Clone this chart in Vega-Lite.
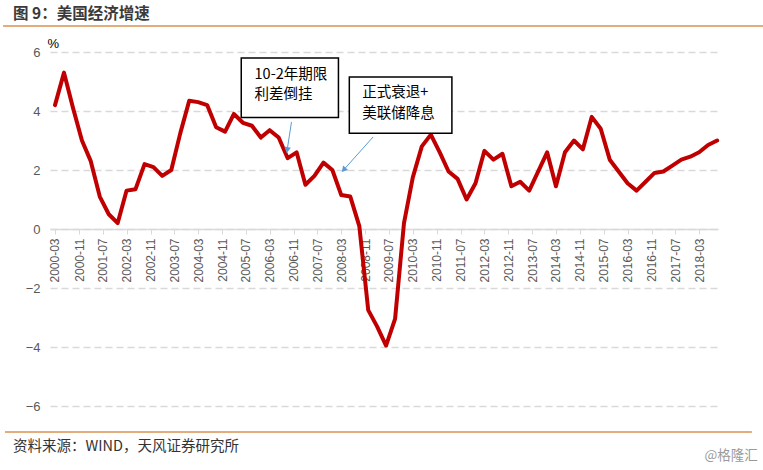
{
  "$schema": "https://vega.github.io/schema/vega-lite/v6.json",
  "width": 668,
  "height": 354,
  "autosize": {"type": "none"},
  "padding": {"left": 50, "top": 52, "right": 45, "bottom": 64},
  "background": "white",
  "config": {"view": {"stroke": null}, "font": "Noto Sans CJK SC", "axis": {"labelOverlap": false, "labelFlush": false, "labelBound": false}},
  "title": {"text": "图 9：美国经济增速", "anchor": "start", "frame": "group", "fontSize": 15.5, "fontWeight": "bold", "color": "#3a3a3a", "font": "Noto Sans CJK SC", "offset": 3, "dx": -37},
  "datasets": {
    "gdp": [
      {"date": "2000-03-01", "v": 4.2}, {"date": "2000-06-01", "v": 5.3}, {"date": "2000-09-01", "v": 4.1}, {"date": "2000-12-01", "v": 3.0},
      {"date": "2001-03-01", "v": 2.3}, {"date": "2001-06-01", "v": 1.1}, {"date": "2001-09-01", "v": 0.5}, {"date": "2001-12-01", "v": 0.2},
      {"date": "2002-03-01", "v": 1.3}, {"date": "2002-06-01", "v": 1.35}, {"date": "2002-09-01", "v": 2.2}, {"date": "2002-12-01", "v": 2.1},
      {"date": "2003-03-01", "v": 1.8}, {"date": "2003-06-01", "v": 2.0}, {"date": "2003-09-01", "v": 3.25}, {"date": "2003-12-01", "v": 4.35},
      {"date": "2004-03-01", "v": 4.3}, {"date": "2004-06-01", "v": 4.2}, {"date": "2004-09-01", "v": 3.45}, {"date": "2004-12-01", "v": 3.3},
      {"date": "2005-03-01", "v": 3.9}, {"date": "2005-06-01", "v": 3.6}, {"date": "2005-09-01", "v": 3.5}, {"date": "2005-12-01", "v": 3.1},
      {"date": "2006-03-01", "v": 3.35}, {"date": "2006-06-01", "v": 3.1}, {"date": "2006-09-01", "v": 2.4}, {"date": "2006-12-01", "v": 2.6},
      {"date": "2007-03-01", "v": 1.5}, {"date": "2007-06-01", "v": 1.8}, {"date": "2007-09-01", "v": 2.25}, {"date": "2007-12-01", "v": 2.0},
      {"date": "2008-03-01", "v": 1.15}, {"date": "2008-06-01", "v": 1.1}, {"date": "2008-09-01", "v": 0.1}, {"date": "2008-12-01", "v": -2.75},
      {"date": "2009-03-01", "v": -3.3}, {"date": "2009-06-01", "v": -3.95}, {"date": "2009-09-01", "v": -3.05}, {"date": "2009-12-01", "v": 0.2},
      {"date": "2010-03-01", "v": 1.75}, {"date": "2010-06-01", "v": 2.8}, {"date": "2010-09-01", "v": 3.2}, {"date": "2010-12-01", "v": 2.6},
      {"date": "2011-03-01", "v": 1.95}, {"date": "2011-06-01", "v": 1.7}, {"date": "2011-09-01", "v": 1.0}, {"date": "2011-12-01", "v": 1.55},
      {"date": "2012-03-01", "v": 2.65}, {"date": "2012-06-01", "v": 2.35}, {"date": "2012-09-01", "v": 2.55}, {"date": "2012-12-01", "v": 1.45},
      {"date": "2013-03-01", "v": 1.6}, {"date": "2013-06-01", "v": 1.3}, {"date": "2013-09-01", "v": 1.95}, {"date": "2013-12-01", "v": 2.6},
      {"date": "2014-03-01", "v": 1.45}, {"date": "2014-06-01", "v": 2.6}, {"date": "2014-09-01", "v": 3.0}, {"date": "2014-12-01", "v": 2.7},
      {"date": "2015-03-01", "v": 3.8}, {"date": "2015-06-01", "v": 3.4}, {"date": "2015-09-01", "v": 2.35}, {"date": "2015-12-01", "v": 1.95},
      {"date": "2016-03-01", "v": 1.55}, {"date": "2016-06-01", "v": 1.3}, {"date": "2016-09-01", "v": 1.6}, {"date": "2016-12-01", "v": 1.9},
      {"date": "2017-03-01", "v": 1.95}, {"date": "2017-06-01", "v": 2.15}, {"date": "2017-09-01", "v": 2.35}, {"date": "2017-12-01", "v": 2.45},
      {"date": "2018-03-01", "v": 2.6}, {"date": "2018-06-01", "v": 2.85}, {"date": "2018-09-01", "v": 3.0}
    ],
    "one": [{}]
  },
  "layer": [
    {
      "data": {"name": "gdp"},
      "mark": {"type": "line", "color": "#C00000", "strokeWidth": 4, "strokeJoin": "round", "strokeCap": "round"},
      "encoding": {
        "x": {
          "field": "date", "type": "temporal",
          "scale": {"type": "utc", "domain": [{"year": 2000, "month": 1, "date": 10, "utc": true}, {"year": 2018, "month": 9, "date": 10, "utc": true}]},
          "axis": {
            "title": null, "format": "%Y-%m", "labelAngle": -90, "labelAlign": "right", "labelBaseline": "middle",
            "labelPadding": 4, "labelFontSize": 12, "labelColor": "#595959", "labelFont": "Liberation Sans",
            "labelOverlap": false, "labelFlush": false, "labelBound": false, "tickCount": 40,
            "grid": false, "domainColor": "#d9d9d9", "domainWidth": 1.5, "tickColor": "#d9d9d9", "tickSize": 5, "tickWidth": 1,
            "offset": -177,
            "values": [
              {"year": 2000, "month": 3, "date": 1, "utc": true}, {"year": 2000, "month": 11, "date": 1, "utc": true},
              {"year": 2001, "month": 7, "date": 1, "utc": true}, {"year": 2002, "month": 3, "date": 1, "utc": true},
              {"year": 2002, "month": 11, "date": 1, "utc": true}, {"year": 2003, "month": 7, "date": 1, "utc": true},
              {"year": 2004, "month": 3, "date": 1, "utc": true}, {"year": 2004, "month": 11, "date": 1, "utc": true},
              {"year": 2005, "month": 7, "date": 1, "utc": true}, {"year": 2006, "month": 3, "date": 1, "utc": true},
              {"year": 2006, "month": 11, "date": 1, "utc": true}, {"year": 2007, "month": 7, "date": 1, "utc": true},
              {"year": 2008, "month": 3, "date": 1, "utc": true}, {"year": 2008, "month": 11, "date": 1, "utc": true},
              {"year": 2009, "month": 7, "date": 1, "utc": true}, {"year": 2010, "month": 3, "date": 1, "utc": true},
              {"year": 2010, "month": 11, "date": 1, "utc": true}, {"year": 2011, "month": 7, "date": 1, "utc": true},
              {"year": 2012, "month": 3, "date": 1, "utc": true}, {"year": 2012, "month": 11, "date": 1, "utc": true},
              {"year": 2013, "month": 7, "date": 1, "utc": true}, {"year": 2014, "month": 3, "date": 1, "utc": true},
              {"year": 2014, "month": 11, "date": 1, "utc": true}, {"year": 2015, "month": 7, "date": 1, "utc": true},
              {"year": 2016, "month": 3, "date": 1, "utc": true}, {"year": 2016, "month": 11, "date": 1, "utc": true},
              {"year": 2017, "month": 7, "date": 1, "utc": true}, {"year": 2018, "month": 3, "date": 1, "utc": true}
            ]
          }
        },
        "y": {
          "field": "v", "type": "quantitative",
          "scale": {"domain": [-6, 6], "nice": false, "zero": false},
          "axis": {
            "values": [-6, -4, -2, 0, 2, 4, 6], "grid": true, "gridDash": [7, 4], "gridColor": "#d9d9d9", "gridWidth": 1.3,
            "domain": false, "ticks": false, "labelColor": "#595959", "labelFontSize": 13, "labelFont": "Liberation Sans", "labelPadding": 10,
            "title": "%", "titleAngle": 0, "titleAlign": "left", "titleBaseline": "middle", "titleX": -3, "titleY": -9,
            "titleFontSize": 13, "titleFontWeight": "normal", "titleColor": "#000000", "titleFont": "Liberation Sans"
          }
        }
      }
    },
    {
      "data": {"name": "one"},
      "mark": {"type": "rect", "fill": "white", "stroke": "#000000", "strokeWidth": 1.5},
      "encoding": {
        "x": {"datum": {"year": 2005, "month": 5, "date": 15, "utc": true}, "type": "temporal"},
        "x2": {"datum": {"year": 2008, "month": 2, "date": 1, "utc": true}},
        "y": {"datum": 5.8, "type": "quantitative"},
        "y2": {"datum": 3.78}
      }
    },
    {
      "data": {"name": "one"},
      "mark": {"type": "rect", "fill": "white", "stroke": "#000000", "strokeWidth": 1.5},
      "encoding": {
        "x": {"datum": {"year": 2008, "month": 5, "date": 22, "utc": true}, "type": "temporal"},
        "x2": {"datum": {"year": 2011, "month": 4, "date": 4, "utc": true}},
        "y": {"datum": 5.15, "type": "quantitative"},
        "y2": {"datum": 3.25}
      }
    },
    {
      "data": {"name": "one"},
      "mark": {"type": "text", "align": "left", "baseline": "middle", "fontSize": 14.5, "color": "#000000", "font": "Noto Sans CJK SC"},
      "encoding": {
        "x": {"datum": {"year": 2005, "month": 9, "date": 28, "utc": true}, "type": "temporal"},
        "y": {"datum": 5.22, "type": "quantitative"},
        "text": {"value": "10-2年期限"}
      }
    },
    {
      "data": {"name": "one"},
      "mark": {"type": "text", "align": "left", "baseline": "middle", "fontSize": 14.5, "color": "#000000", "font": "Noto Sans CJK SC"},
      "encoding": {
        "x": {"datum": {"year": 2005, "month": 9, "date": 28, "utc": true}, "type": "temporal"},
        "y": {"datum": 4.54, "type": "quantitative"},
        "text": {"value": "利差倒挂"}
      }
    },
    {
      "data": {"name": "one"},
      "mark": {"type": "text", "align": "left", "baseline": "middle", "fontSize": 14.5, "color": "#000000", "font": "Noto Sans CJK SC"},
      "encoding": {
        "x": {"datum": {"year": 2008, "month": 10, "date": 1, "utc": true}, "type": "temporal"},
        "y": {"datum": 4.61, "type": "quantitative"},
        "text": {"value": "正式衰退+"}
      }
    },
    {
      "data": {"name": "one"},
      "mark": {"type": "text", "align": "left", "baseline": "middle", "fontSize": 14.5, "color": "#000000", "font": "Noto Sans CJK SC"},
      "encoding": {
        "x": {"datum": {"year": 2008, "month": 10, "date": 1, "utc": true}, "type": "temporal"},
        "y": {"datum": 3.9, "type": "quantitative"},
        "text": {"value": "美联储降息"}
      }
    },
    {
      "data": {"name": "one"},
      "mark": {"type": "rule", "color": "#5B9BD5", "strokeWidth": 1},
      "encoding": {
        "x": {"datum": {"year": 2006, "month": 10, "date": 10, "utc": true}, "type": "temporal"},
        "x2": {"datum": {"year": 2006, "month": 8, "date": 28, "utc": true}},
        "y": {"datum": 3.63, "type": "quantitative"},
        "y2": {"datum": 2.71}
      }
    },
    {
      "data": {"name": "one"},
      "mark": {"type": "point", "shape": "triangle", "filled": true, "color": "#5B9BD5", "size": 45, "angle": 189, "opacity": 1},
      "encoding": {
        "x": {"datum": {"year": 2006, "month": 8, "date": 28, "utc": true}, "type": "temporal"},
        "y": {"datum": 2.71, "type": "quantitative"}
      }
    },
    {
      "data": {"name": "one"},
      "mark": {"type": "rule", "color": "#5B9BD5", "strokeWidth": 1},
      "encoding": {
        "x": {"datum": {"year": 2009, "month": 1, "date": 20, "utc": true}, "type": "temporal"},
        "x2": {"datum": {"year": 2008, "month": 4, "date": 1, "utc": true}},
        "y": {"datum": 3.12, "type": "quantitative"},
        "y2": {"datum": 2.03}
      }
    },
    {
      "data": {"name": "one"},
      "mark": {"type": "point", "shape": "triangle", "filled": true, "color": "#5B9BD5", "size": 45, "angle": 222, "opacity": 1},
      "encoding": {
        "x": {"datum": {"year": 2008, "month": 4, "date": 1, "utc": true}, "type": "temporal"},
        "y": {"datum": 2.03, "type": "quantitative"}
      }
    },
    {
      "data": {"name": "one"},
      "mark": {"type": "rule", "color": "#D9914F", "strokeWidth": 1.5},
      "encoding": {
        "x": {"datum": {"year": 1998, "month": 9, "date": 18, "utc": true}, "type": "temporal"},
        "x2": {"datum": {"year": 2019, "month": 12, "date": 13, "utc": true}},
        "y": {"datum": 6.88, "type": "quantitative"}
      }
    },
    {
      "data": {"name": "one"},
      "mark": {"type": "rule", "color": "#D9914F", "strokeWidth": 1.5},
      "encoding": {
        "x": {"datum": {"year": 1998, "month": 10, "date": 7, "utc": true}, "type": "temporal"},
        "x2": {"datum": {"year": 2019, "month": 8, "date": 22, "utc": true}},
        "y": {"datum": -6.88, "type": "quantitative"}
      }
    },
    {
      "data": {"name": "one"},
      "mark": {"type": "text", "align": "left", "baseline": "middle", "fontSize": 14.5, "color": "#333333", "font": "Noto Sans CJK SC"},
      "encoding": {
        "x": {"datum": {"year": 1998, "month": 12, "date": 28, "utc": true}, "type": "temporal"},
        "y": {"datum": -7.39, "type": "quantitative"},
        "text": {"value": "资料来源：WIND，天风证券研究所"}
      }
    },
    {
      "data": {"name": "one"},
      "mark": {"type": "text", "align": "right", "baseline": "middle", "fontSize": 13.5, "color": "#9a9a9a", "font": "Noto Sans CJK SC"},
      "encoding": {
        "x": {"datum": {"year": 2019, "month": 10, "date": 22, "utc": true}, "type": "temporal"},
        "y": {"datum": -7.69, "type": "quantitative"},
        "text": {"value": "@格隆汇"}
      }
    }
  ]
}
